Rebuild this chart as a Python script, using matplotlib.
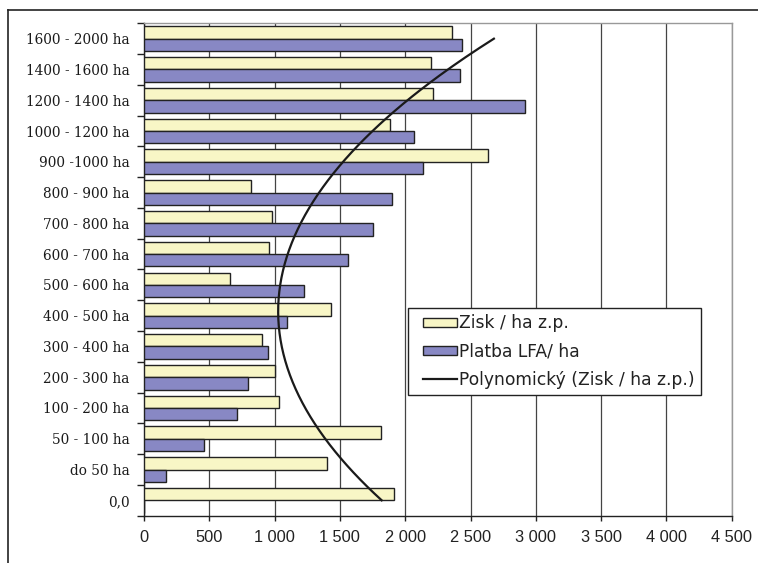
import numpy as np
import matplotlib
matplotlib.use("Agg")
import matplotlib.pyplot as plt
from matplotlib.lines import Line2D
from matplotlib.patches import Patch, Rectangle

categories = ["0,0", "do 50 ha", "50 - 100 ha", "100 - 200 ha", "200 - 300 ha",
              "300 - 400 ha", "400 - 500 ha", "500 - 600 ha", "600 - 700 ha",
              "700 - 800 ha", "800 - 900 ha", "900 -1000 ha", "1000 - 1200 ha",
              "1200 - 1400 ha", "1400 - 1600 ha", "1600 - 2000 ha"]
zisk = [1917, 1401, 1812, 1036, 1003, 906, 1434, 658, 960, 982, 817, 2631,
        1886, 2210, 2198, 2361]
platba = [0, 168, 462, 712, 799, 947, 1093, 1228, 1564, 1756, 1899, 2136,
          2070, 2915, 2417, 2437]
x_ticks = [0, 500, 1000, 1500, 2000, 2500, 3000, 3500, 4000, 4500]
x_tick_labels = ["0", "500", "1 000", "1 500", "2 000", "2 500", "3 000",
                 "3 500", "4 000", "4 500"]
label_zisk = "Zisk / ha z.p."
label_platba = "Platba LFA/ ha"
label_trend = "Polynomický (Zisk / ha z.p.)"

YELLOW = "#F8F6C6"
BLUE = "#8888C4"
EDGE = "#222222"
LEG_OFFSET = 6.6  # points of empty space left of the legend handles


class OffsetHandler:
    def legend_artist(self, legend, orig_handle, fontsize, handlebox):
        x0, y0 = -handlebox.xdescent + LEG_OFFSET, -handlebox.ydescent
        w, h = handlebox.width - LEG_OFFSET, handlebox.height
        if isinstance(orig_handle, Line2D):
            art = Line2D([x0, x0 + w], [y0 + h / 2, y0 + h / 2],
                         color=orig_handle.get_color(), lw=orig_handle.get_linewidth())
        else:
            art = Rectangle((x0, y0), w, h, facecolor=orig_handle.get_facecolor(),
                            edgecolor=orig_handle.get_edgecolor(),
                            lw=orig_handle.get_linewidth())
        art.set_transform(handlebox.get_transform())
        handlebox.add_artist(art)
        return art


fig = plt.figure(figsize=(7.58, 5.63), dpi=100)
ax = fig.add_axes([144/758, 1-515.7/563, (731.7-144)/758, (515.7-23.3)/563])

y = np.arange(len(categories))
ax.barh(y + 0.2, zisk, height=0.4, color=YELLOW, edgecolor=EDGE, linewidth=1.0, zorder=3)
ax.barh(y - 0.2, platba, height=0.4, color=BLUE, edgecolor=EDGE, linewidth=1.0, zorder=3)

# polynomial (order 2) trendline of Zisk
coef = np.polyfit(y, zisk, 2)
ys = np.linspace(y[0], y[-1], 200)
ax.plot(np.polyval(coef, ys), ys, color="#1a1a1a", lw=1.6, zorder=4)

ax.set_xlim(0, 4500)
ax.set_ylim(-0.5, len(categories) - 0.5)
ax.set_xticks(x_ticks)
ax.set_xticklabels(x_tick_labels, fontfamily="Liberation Sans", fontsize=11.8, color="#222222")
ax.tick_params(axis="x", direction="out", length=3.6, width=1, color=EDGE, pad=7)

ax.set_yticks(np.arange(-0.5, len(categories), 1.0))
ax.set_yticklabels([])
ax.tick_params(axis="y", which="major", direction="out", length=5, width=1, color=EDGE)
ax.set_yticks(y, minor=True)
ax.set_yticklabels(categories, minor=True, fontfamily="DejaVu Serif", fontsize=9.8, color="#1a1a1a")
ax.tick_params(axis="y", which="minor", length=0, pad=10.5)

ax.grid(axis="x", color="#444444", lw=0.9, zorder=0)
ax.set_axisbelow(True)
for s in ["left", "bottom"]:
    ax.spines[s].set_color(EDGE)
    ax.spines[s].set_linewidth(1.0)
for s in ["top", "right"]:
    ax.spines[s].set_color("#999999")
    ax.spines[s].set_linewidth(1.0)

handles = [Patch(facecolor=YELLOW, edgecolor=EDGE, lw=1.0, label=label_zisk),
           Patch(facecolor=BLUE, edgecolor=EDGE, lw=1.0, label=label_platba),
           Line2D([], [], color="#1a1a1a", lw=1.6, label=label_trend)]
fs = 12.3
leg = fig.legend(handles=handles, loc="upper left",
                 bbox_to_anchor=(408.3/758, 1-308.3/563), borderaxespad=0,
                 prop={"family": "DejaVu Sans", "size": fs}, frameon=True, fancybox=False,
                 edgecolor=EDGE, framealpha=1,
                 handlelength=(24 + LEG_OFFSET) / fs, handleheight=0.42,
                 handletextpad=0.15, labelspacing=0.6, borderpad=0.35,
                 handler_map={Patch: OffsetHandler(), Line2D: OffsetHandler()})
leg.get_frame().set_linewidth(1.0)
for t in leg.get_texts():
    t.set_color("#222222")

# outer chart frame (left and top edges visible)
fig.add_artist(Line2D([8/758, 8/758], [0, 1-10/563], transform=fig.transFigure, color=EDGE, lw=1.2))
fig.add_artist(Line2D([8/758, 1], [1-10/563, 1-10/563], transform=fig.transFigure, color=EDGE, lw=1.2))

fig.savefig("out.png", dpi=100)
